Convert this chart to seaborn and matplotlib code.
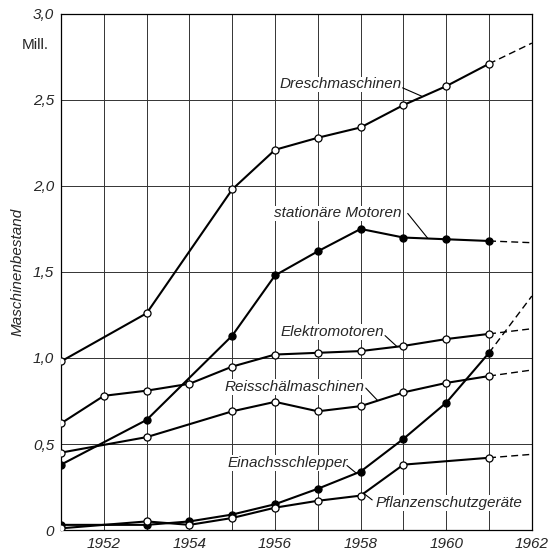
import matplotlib
matplotlib.use("Agg")
import matplotlib.pyplot as plt
import seaborn as sns
import pandas as pd

sns.set_theme(style="white")
plt.rcParams['font.family'] = ['Liberation Sans Narrow', 'Liberation Sans', 'DejaVu Sans']

# ---- data ----
dresch_years = [1951, 1953, 1955, 1956, 1957, 1958, 1959, 1960, 1961]
dresch_vals = [0.98, 1.26, 1.98, 2.21, 2.28, 2.34, 2.47, 2.58, 2.71]
dresch_1962 = 2.83

motoren_years = [1951, 1953, 1955, 1956, 1957, 1958, 1959, 1960, 1961]
motoren_vals = [0.38, 0.64, 1.13, 1.48, 1.62, 1.75, 1.70, 1.69, 1.68]
motoren_1962 = 1.67

elektro_years = [1951, 1952, 1953, 1954, 1955, 1956, 1957, 1958, 1959, 1960, 1961]
elektro_vals = [0.62, 0.78, 0.81, 0.85, 0.95, 1.02, 1.03, 1.04, 1.07, 1.11, 1.14]
elektro_1962 = 1.17

reis_years = [1951, 1953, 1955, 1956, 1957, 1958, 1959, 1960, 1961]
reis_vals = [0.45, 0.54, 0.69, 0.745, 0.69, 0.72, 0.80, 0.855, 0.895]
reis_1962 = 0.93

einach_years = [1951, 1953, 1954, 1955, 1956, 1957, 1958, 1959, 1960, 1961]
einach_vals = [0.03, 0.03, 0.05, 0.09, 0.15, 0.24, 0.34, 0.53, 0.74, 1.03]
einach_1962 = 1.36

pflanz_years = [1951, 1953, 1954, 1955, 1956, 1957, 1958, 1959, 1961]
pflanz_vals = [0.01, 0.05, 0.03, 0.07, 0.13, 0.17, 0.20, 0.38, 0.42]
pflanz_1962 = 0.44

series = [
    ("Dreschmaschinen", dresch_years, dresch_vals, dresch_1962, "white"),
    ("stationäre Motoren", motoren_years, motoren_vals, motoren_1962, "black"),
    ("Elektromotoren", elektro_years, elektro_vals, elektro_1962, "white"),
    ("Reisschälmaschinen", reis_years, reis_vals, reis_1962, "white"),
    ("Einachsschlepper", einach_years, einach_vals, einach_1962, "black"),
    ("Pflanzenschutzgeräte", pflanz_years, pflanz_vals, pflanz_1962, "white"),
]

x_ticks = [1952, 1954, 1956, 1958, 1960, 1962]
y_ticks = [0, 0.5, 1.0, 1.5, 2.0, 2.5, 3.0]
y_ticklabels = ["0", "0,5", "1,0", "1,5", "2,0", "2,5", "3,0"]

fig = plt.figure(figsize=(5.5, 5.55), dpi=100)
ax = fig.add_axes([0.111, 0.045, 0.856, 0.930])

for name, yrs, vals, v62, fc in series:
    df = pd.DataFrame({"Jahr": yrs, "Wert": vals})
    sns.lineplot(data=df, x="Jahr", y="Wert", ax=ax, color="black", lw=1.5,
                 zorder=3, sort=False)
    ext = pd.DataFrame({"Jahr": [yrs[-1], 1962], "Wert": [vals[-1], v62]})
    sns.lineplot(data=ext, x="Jahr", y="Wert", ax=ax, color="black", lw=1.0,
                 linestyle=(0, (5, 3)), zorder=3, sort=False)
    sns.scatterplot(data=df, x="Jahr", y="Wert", ax=ax, color=fc,
                    edgecolor="black", linewidth=0.9, s=26, zorder=4)

ax.set_xlim(1951, 1962)
ax.set_ylim(0, 3.0)
ax.set_xticks(range(1951, 1963))
ax.set_yticks(y_ticks)
ax.grid(True, which="major", color="#333333", lw=0.7)
ax.set_xticklabels([str(y) if y in x_ticks else "" for y in range(1951, 1963)],
                   fontstyle="italic", fontsize=11)
ax.set_yticklabels(y_ticklabels, fontstyle="italic", fontsize=11)
ax.tick_params(axis="both", length=0, pad=5)
ax.set_xlabel("")
ax.set_ylabel("Maschinenbestand", fontstyle="italic", fontsize=11, labelpad=6)
for s in ax.spines.values():
    s.set_color("black")
    s.set_linewidth(0.9)

fig.text(35 / 550, 1 - 45 / 555, "Mill.", fontsize=11, ha="center", va="center")

# labels with leader lines (data coordinates); text anchored at leader start
labels = [
    ("Dreschmaschinen", 1958.95, 2.59, "right", (1958.98, 2.57), (1959.44, 2.52)),
    ("stationäre Motoren", 1958.95, 1.84, "right", (1959.1, 1.84), (1959.57, 1.695)),
    ("Elektromotoren", 1958.55, 1.15, "right", (1958.57, 1.13), (1958.85, 1.066)),
    ("Reisschälmaschinen", 1958.1, 0.83, "right", (1958.12, 0.825), (1958.4, 0.752)),
    ("Einachsschlepper", 1957.7, 0.39, "right", (1957.68, 0.375), (1957.9, 0.33)),
    ("Pflanzenschutzgeräte", 1958.34, 0.157, "left", (1958.27, 0.175), (1958.06, 0.215)),
]
for text, tx, ty, ha, p0, p1 in labels:
    ax.text(tx, ty, text, fontstyle="italic", fontsize=11, ha=ha, va="center",
            zorder=5, bbox=dict(facecolor="white", edgecolor="none", pad=0.5))
    ax.plot([p0[0], p1[0]], [p0[1], p1[1]], color="black", lw=0.8, zorder=5)

fig.savefig("out.png", dpi=100)
